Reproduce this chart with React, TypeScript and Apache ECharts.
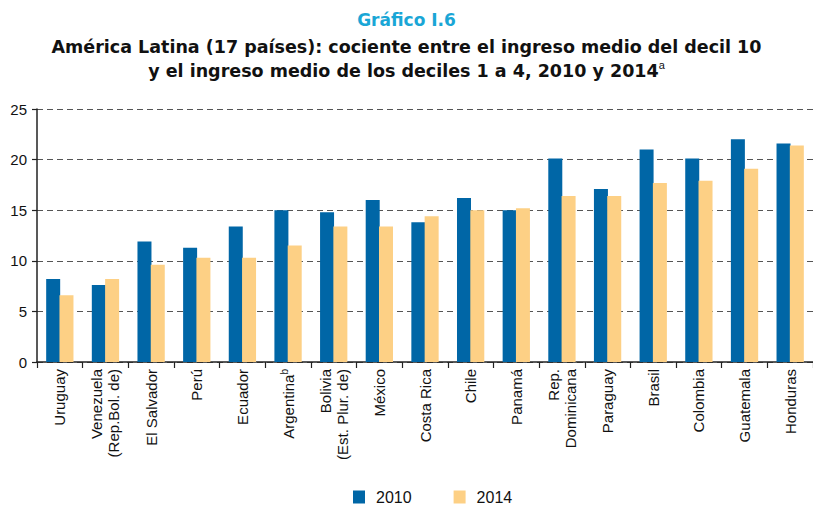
import React, { useEffect, useRef } from "react";
import * as echarts from "echarts";

const categories = [
  "Uruguay",
  "Venezuela\n(Rep.Bol. de)",
  "El Salvador",
  "Perú",
  "Ecuador",
  "Argentina{sup|b}",
  "Bolivia\n(Est. Plur. de)",
  "México",
  "Costa Rica",
  "Chile",
  "Panamá",
  "Rep.\nDominicana",
  "Paraguay",
  "Brasil",
  "Colombia",
  "Guatemala",
  "Honduras",
];
const values2010 = [8.2, 7.6, 11.9, 11.3, 13.4, 15.0, 14.8, 16.0, 13.8, 16.2, 15.0, 20.1, 17.1, 21.0, 20.1, 22.0, 21.6];
const values2014 = [6.6, 8.2, 9.6, 10.3, 10.3, 11.5, 13.4, 13.4, 14.4, 15.0, 15.2, 16.4, 16.4, 17.7, 17.9, 19.1, 21.4];
const seriesNames = ["2010", "2014"];
const yTicks = { min: 0, max: 25, interval: 5 };

const FONT = "'Liberation Sans', Arial, Helvetica, sans-serif";
const TITLE_FONT = "'DejaVu Sans', 'Liberation Sans', Arial, sans-serif";

export default function App() {
  const ref = useRef<HTMLDivElement>(null);
  useEffect(() => {
    if (!ref.current) return;
    const chart = echarts.init(ref.current, null, { renderer: "svg" });
    chart.setOption({
      animation: false,
      backgroundColor: "#ffffff",
      textStyle: { fontFamily: FONT },
      title: [
        {
          text: "Gráfico I.6",
          left: "center",
          top: 6,
          textStyle: { fontFamily: TITLE_FONT, fontSize: 17, fontWeight: "bold", color: "#1aa6d6" },
        },
        {
          text:
            "América Latina (17 países): cociente entre el ingreso medio del decil 10\ny el ingreso medio de los deciles 1 a 4, 2010 y 2014{sup|a}",
          left: "center",
          top: 30,
          textStyle: {
            fontFamily: TITLE_FONT,
            fontSize: 17.5,
            fontWeight: "bold",
            color: "#111111",
            lineHeight: 24,
            rich: {
              sup: {
                fontFamily: FONT,
                fontSize: 11,
                fontWeight: "normal",
                color: "#111111",
                verticalAlign: "top",
                lineHeight: 16,
                padding: [0, 0, 8, 0],
              },
            },
          },
        },
      ],
      legend: {
        bottom: -3,
        left: 348,
        itemWidth: 12,
        itemHeight: 13,
        itemGap: 42,
        icon: "rect",
        data: seriesNames,
        textStyle: { fontFamily: FONT, fontSize: 16, color: "#111111", padding: [0, 0, 0, 6] },
      },
      grid: { left: 37, right: -8, top: 109, bottom: 145, containLabel: false },
      xAxis: {
        type: "category",
        data: categories,
        axisLine: { show: true, lineStyle: { color: "#222222", width: 1.5 } },
        axisTick: { show: true, alignWithLabel: false, length: 6, lineStyle: { color: "#222222", width: 1.2 } },
        axisLabel: {
          interval: 0,
          rotate: 90,
          margin: 7,
          fontFamily: FONT,
          fontSize: 15,
          color: "#111111",
          lineHeight: 17,
          rich: {
            sup: { fontFamily: FONT, fontSize: 10, color: "#111111", verticalAlign: "top", lineHeight: 12, padding: [0, 0, 6, 0] },
          },
        },
      },
      yAxis: {
        type: "value",
        min: yTicks.min,
        max: yTicks.max,
        interval: yTicks.interval,
        axisLine: { show: true, lineStyle: { color: "#222222", width: 1.5 } },
        axisTick: { show: true, length: 5, lineStyle: { color: "#222222", width: 1.2 } },
        axisLabel: { fontFamily: FONT, fontSize: 15, color: "#111111", margin: 10 },
        splitLine: { show: true, lineStyle: { color: "#555555", type: [6, 4], width: 1.2 } },
      },
      series: [
        {
          name: seriesNames[0],
          type: "bar",
          data: values2010,
          barWidth: 14,
          barGap: "-5%",
          itemStyle: { color: "#0066a6" },
        },
        {
          name: seriesNames[1],
          type: "bar",
          data: values2014,
          barWidth: 14,
          barGap: "-5%",
          itemStyle: { color: "#fdd085" },
        },
      ],
    });
    return () => chart.dispose();
  }, []);
  return (
    <div
      ref={ref}
      style={{ position: "fixed", left: 0, top: 0, width: 813, height: 507, overflow: "hidden" }}
    />
  );
}
